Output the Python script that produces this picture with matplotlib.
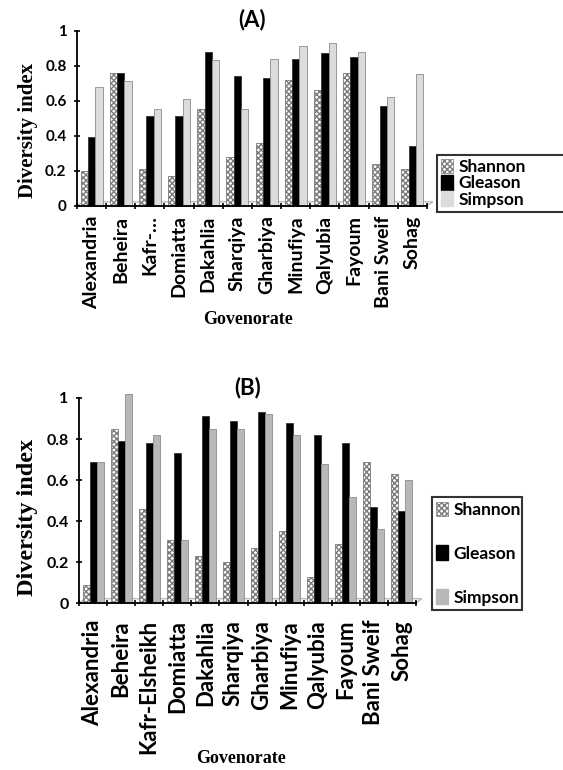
import matplotlib
matplotlib.use("Agg")
import matplotlib.pyplot as plt
import numpy as np
from matplotlib.patches import Patch

# Governorates
govs_a = ["Alexandria", "Beheira", "Kafr-\u2026", "Domiatta", "Dakahlia", "Sharqiya",
          "Gharbiya", "Minufiya", "Qalyubia", "Fayoum", "Bani Sweif", "Sohag"]
govs_b = ["Alexandria", "Beheira", "Kafr-Elsheikh", "Domiatta", "Dakahlia", "Sharqiya",
          "Gharbiya", "Minufiya", "Qalyubia", "Fayoum", "Bani Sweif", "Sohag"]

# Panel A values
shannon_a = [0.20, 0.76, 0.21, 0.17, 0.55, 0.28, 0.36, 0.72, 0.66, 0.76, 0.24, 0.21]
gleason_a = [0.39, 0.76, 0.51, 0.51, 0.88, 0.74, 0.73, 0.84, 0.87, 0.85, 0.57, 0.34]
simpson_a = [0.68, 0.71, 0.55, 0.61, 0.83, 0.55, 0.84, 0.91, 0.93, 0.88, 0.62, 0.75]

# Panel B values
shannon_b = [0.09, 0.85, 0.46, 0.31, 0.23, 0.20, 0.27, 0.35, 0.13, 0.29, 0.69, 0.63]
gleason_b = [0.69, 0.79, 0.78, 0.73, 0.91, 0.89, 0.93, 0.88, 0.82, 0.78, 0.47, 0.45]
simpson_b = [0.69, 1.02, 0.82, 0.31, 0.85, 0.85, 0.92, 0.82, 0.68, 0.52, 0.36, 0.60]

SANS = "Lato"
SERIF = "Liberation Serif"

fig = plt.figure(figsize=(5.63, 7.70), dpi=100)


def panel(rect, names, sh, gl, si, title, simp_color, lab_size, lab_pad,
          tick_size, ylab_size, ylab_xy, xlab_xy, title_pad,
          leg_rect, leg_size, leg_space):
    ax = fig.add_axes(rect)
    x = np.arange(len(names))
    w = 0.25
    # 3D-ish floor
    fx = [-0.5, -0.3, len(names) - 0.3, len(names) - 0.5]
    fy = [0, 0.022, 0.022, 0]
    ax.fill(fx, fy, facecolor="white", edgecolor="#aaaaaa", lw=0.8,
            zorder=0.5, clip_on=False)
    ax.bar(x - w, sh, w, color="white", edgecolor="#7a7a7a", hatch="xxxxxx",
           lw=0.6, zorder=2, clip_on=False)
    ax.bar(x, gl, w, color="black", edgecolor="#333333", lw=0.6, zorder=2,
           clip_on=False)
    ax.bar(x + w, si, w, color=simp_color, edgecolor="#8c8c8c", lw=0.6,
           zorder=2, clip_on=False)
    ax.set_xlim(-0.5, len(names) - 0.5)
    ax.set_ylim(0, 1)
    ax.set_yticks([0, 0.2, 0.4, 0.6, 0.8, 1])
    ax.set_yticklabels(["0", "0.2", "0.4", "0.6", "0.8", "1"],
                       fontsize=tick_size, fontweight="bold", family=SANS)
    ax.set_xticks(x)
    ax.set_xticklabels(names, rotation=90, fontsize=lab_size,
                       fontweight="bold", family=SANS)
    ax.set_xticks(np.arange(-0.5, len(names)), minor=True)
    ax.tick_params(axis="x", which="major", length=0, pad=lab_pad)
    ax.tick_params(axis="x", which="minor", length=5, width=1.2,
                   direction="inout")
    ax.tick_params(axis="y", length=5, width=1.2, direction="inout", pad=5)
    for s in ["top", "right"]:
        ax.spines[s].set_visible(False)
    for s in ["left", "bottom"]:
        ax.spines[s].set_linewidth(1.3)
    ax.set_ylabel("Diversity index", fontsize=ylab_size, fontweight="bold",
                  family=SERIF)
    ax.yaxis.set_label_coords(*ylab_xy)
    ax.set_xlabel("Govenorate", fontsize=13, fontweight="bold", family=SERIF)
    ax.xaxis.set_label_coords(*xlab_xy)
    ax.set_title(title, fontsize=16, fontweight="bold", family=SANS,
                 pad=title_pad)

    handles = [Patch(facecolor="white", edgecolor="#7a7a7a", hatch="xxxxxx", lw=0.5),
               Patch(facecolor="black", edgecolor="black"),
               Patch(facecolor=simp_color, edgecolor=simp_color)]
    leg = fig.legend(handles, ["Shannon", "Gleason", "Simpson"],
                     loc="lower left", bbox_to_anchor=leg_rect,
                     mode="expand", borderaxespad=0, frameon=True,
                     fancybox=False, handlelength=0.7, handleheight=0.9,
                     handletextpad=0.3, labelspacing=leg_space,
                     borderpad=0.25,
                     prop={"family": SANS, "weight": "bold", "size": leg_size})
    leg.get_frame().set_edgecolor("black")
    leg.get_frame().set_linewidth(1.5)
    return ax


panel([77 / 563, 1 - 205.7 / 770, 350 / 563, 175 / 770], govs_a,
      shannon_a, gleason_a, simpson_a, "(A)", "#dcdcdc", 14, 7, 11, 15,
      (-0.11, 0.43), (0.49, -0.60), 0,
      (437 / 563, 1 - 212 / 770, 140 / 563, 0.01), 12.5, 0.0)

panel([79 / 563, 1 - 603.3 / 770, 337 / 563, 205.3 / 770], govs_b,
      shannon_b, gleason_b, simpson_b, "(B)", "#b8b8b8", 16, 12, 11.5, 17.5,
      (-0.122, 0.42), (0.48, -0.715), 2,
      (432 / 563, 1 - 610 / 770, 90 / 563, 0.01), 12.5, 1.6)

fig.savefig("out.png", dpi=100)
